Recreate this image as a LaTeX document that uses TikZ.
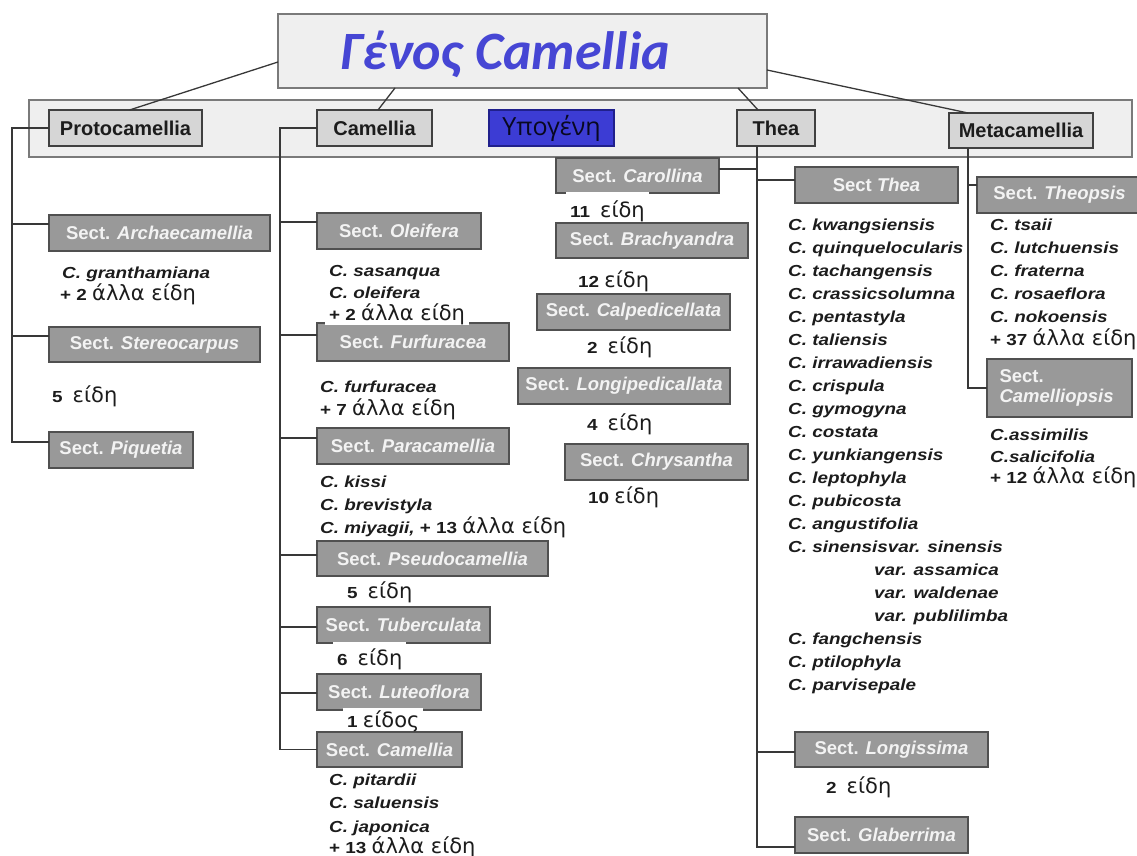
\documentclass[tikz,border=0pt]{standalone}
\usepackage{fontspec}
\setmainfont{Liberation Sans}
\newfontfamily\spfont[FakeStretch=1.18]{Liberation Sans}
\newfontfamily\grfont{DejaVu Sans}
\newfontfamily\ttlfont{Carlito}
\newfontfamily\ypfont{Open Sans}

\definecolor{frameline}{HTML}{7A7A7A}
\definecolor{framefill}{HTML}{EFEFEF}
\definecolor{subfill}{HTML}{D6D6D6}
\definecolor{subline}{HTML}{404040}
\definecolor{sectfill}{HTML}{999999}
\definecolor{sectline}{HTML}{505050}
\definecolor{secttext}{HTML}{F3F3F3}
\definecolor{ink}{HTML}{1C1C1C}
\definecolor{linkcol}{HTML}{383838}
\definecolor{titleblue}{HTML}{4646D4}
\definecolor{ypblue}{HTML}{3C3CD4}
\definecolor{ypline}{HTML}{20208C}
\definecolor{yptext}{HTML}{080820}

% Greek words in the species counts
\newcommand\gk[1]{{\grfont\fontsize{21}{25}\selectfont\mdseries\upshape #1}}
\newcommand\gap{\hspace{10pt}}
% entry point of a connector on a box side
\newcommand\setentry[3]{\path ([yshift=#3]#1.#2) coordinate (#1-in);}

\tikzset{
  sz/.style 2 args={minimum width=#1pt, minimum height=#2pt},
  box/.style={anchor=north west, inner sep=0pt, outer sep=0pt},
  frame/.style={box, draw=frameline, fill=framefill, line width=1.5pt},
  subg/.style={box, draw=subline, fill=subfill, line width=1.5pt, text=ink,
    font=\fontsize{20}{24}\selectfont\bfseries},
  ypbox/.style={box, draw=ypline, fill=ypblue, line width=1.5pt, text=yptext,
    font=\ypfont\fontsize{25}{28}\selectfont},
  sect/.style={box, draw=sectline, fill=sectfill, line width=1.8pt, text=secttext,
    font=\fontsize{18.5}{20}\selectfont\bfseries},
  sp/.style={anchor=base west, inner sep=0pt, text=ink,
    font=\spfont\fontsize{16}{19}\selectfont\bfseries\itshape},
  cnt/.style={anchor=base west, inner sep=0pt, text=ink,
    font=\spfont\fontsize{16}{19}\selectfont\bfseries},
  wbg/.style={fill=white, inner xsep=4pt},
  link/.style={draw=linkcol, line width=1.3pt},
}

\begin{document}
\begin{tikzpicture}[x=1pt, y=-1pt]
\useasboundingbox (0,0) rectangle (1137,856);
\clip (0,0) rectangle (1137,856);

% genus title and subgenus band
\node[frame, sz={1103}{57}] (band) at (29,100) {};
\node[frame, sz={489}{74}] (title) at (278,14) {};
\node[anchor=base, inner sep=0pt, text=titleblue,
      font=\ttlfont\fontsize{54}{60}\selectfont\bfseries\itshape] (titletext) at (505,70) {Γένος Camellia};

% subgenera
\node[subg, sz={153}{36}] (proto) at (49,110) {Protocamellia};
\node[subg, sz={115}{36}] (camsub) at (317,110) {Camellia};
\node[ypbox, sz={125}{36}] (ypo) at (489,110) {Υπογένη};
\node[subg, sz={78}{36}] (thea) at (737,110) {Thea};
\node[subg, sz={144}{35}] (meta) at (949,113) {Metacamellia};

\draw[link] ([yshift=-11pt]title.west) -- ([xshift=4pt]proto.north);
\draw[link] ([xshift=-127.5pt]title.south) -- ([xshift=3.5pt]camsub.north);
\draw[link] ([xshift=215.5pt]title.south) -- ([xshift=-18pt]thea.north);
\draw[link] ([yshift=-19pt]title.east) -- ([xshift=-53pt]meta.north);

% sections of Protocamellia
\node[sect, sz={221}{36}] (archae) at (49,215) {Sect. \textit{Archaecamellia}};
\node[sect, sz={211}{35}] (stereo) at (49,327) {Sect. \textit{Stereocarpus}};
\node[sect, sz={144}{36}] (piq) at (49,432) {Sect. \textit{Piquetia}};

% sections of Camellia
\node[sect, sz={164}{36}] (olei) at (317,213) {Sect. \textit{Oleifera}};
\node[sect, sz={192}{38}] (furf) at (317,323) {Sect. \textit{Furfuracea}};
\node[sect, sz={192}{36}] (para) at (317,428) {Sect. \textit{Paracamellia}};
\node[sect, sz={231}{35}] (pseudo) at (317,541) {Sect. \textit{Pseudocamellia}};
\node[sect, sz={173}{36}] (tuber) at (317,607) {Sect. \textit{Tuberculata}};
\node[sect, sz={164}{36}] (luteo) at (317,674) {Sect. \textit{Luteoflora}};
\node[sect, sz={145}{35}] (scam) at (317,732) {Sect. \textit{Camellia}};

% sections of Thea
\node[sect, sz={163}{35}] (caro) at (556,158) {Sect. \textit{Carollina}};
\node[sect, sz={192}{35}] (brachy) at (556,223) {Sect. \textit{Brachyandra}};
\node[sect, sz={193}{36}] (calped) at (537,294) {Sect. \textit{Calpedicellata}};
\node[sect, sz={212}{36}] (longiped) at (518,368) {Sect. \textit{Longipedicallata}};
\node[sect, sz={183}{36}] (chrys) at (565,444) {Sect. \textit{Chrysantha}};
\node[sect, sz={163}{36}] (sthea) at (795,167) {Sect \textit{Thea}};
\node[sect, sz={193}{35}] (longis) at (795,732) {Sect. \textit{Longissima}};
\node[sect, sz={173}{36}] (glab) at (795,817) {Sect. \textit{Glaberrima}};

% sections of Metacamellia
\node[sect, sz={165}{36}] (theop) at (977,177) {Sect. \textit{Theopsis}};
\node[sect, sz={145}{58}, align=left, text width=120pt] (camop) at (987,359) {Sect.\\\textit{Camelliopsis}};

% trunk lines
\coordinate (ptrunk) at (12,0);
\coordinate (ctrunk) at (280,0);
\coordinate (ttrunk) at (757,0);
\coordinate (mtrunk) at (968,0);

\setentry{archae}{west}{9pt}
\setentry{stereo}{west}{8.5pt}
\setentry{piq}{west}{8pt}
\draw[link] (proto.west) -| (piq-in -| ptrunk) -- (piq-in);
\draw[link] (archae-in) -- (archae-in -| ptrunk);
\draw[link] (stereo-in) -- (stereo-in -| ptrunk);

\setentry{olei}{west}{9pt}
\setentry{furf}{west}{7pt}
\setentry{para}{west}{8pt}
\setentry{pseudo}{west}{3.5pt}
\setentry{tuber}{west}{-2pt}
\setentry{luteo}{west}{-1pt}
\setentry{scam}{west}{0pt}
\draw[link] (camsub.west) -| (scam-in -| ctrunk) -- (scam-in);
\foreach \b in {olei,furf,para,pseudo,tuber,luteo}
  \draw[link] (\b-in) -- (\b-in -| ctrunk);

\setentry{caro}{east}{6.5pt}
\setentry{sthea}{west}{5pt}
\setentry{longis}{west}{-2.5pt}
\setentry{glab}{west}{-12pt}
\draw[link] (ttrunk |- thea.south) -- (glab-in -| ttrunk) -- (glab-in);
\foreach \b in {caro,sthea,longis}
  \draw[link] (\b-in) -- (\b-in -| ttrunk);

\setentry{theop}{west}{10pt}
\setentry{camop}{west}{0pt}
\draw[link] (mtrunk |- meta.south) -- (camop-in -| mtrunk) -- (camop-in);
\draw[link] (theop-in) -- (theop-in -| mtrunk);

% species of Protocamellia
\node[sp] (archae-t1) at (62,278) {C. granthamiana};
\node[cnt] (archae-t2) at (60,300) {+ 2 \gk{άλλα είδη}};
\node[cnt] (stereo-t1) at (52,402) {5\gap\gk{είδη}};

% species of Camellia
\node[sp] (olei-t1) at (329,276) {C. sasanqua};
\node[sp] (olei-t2) at (329,298) {C. oleifera};
\node[cnt, wbg, text height=16pt, text depth=5pt] (olei-t3) at (325,320) {+ 2 \gk{άλλα είδη}};
\node[sp] (furf-t1) at (320,392) {C. furfuracea};
\node[cnt] (furf-t2) at (320,415) {+ 7 \gk{άλλα είδη}};
\node[sp] (para-t1) at (320,487) {C. kissi};
\node[sp] (para-t2) at (320,510) {C. brevistyla};
\node[sp] (para-t3) at (320,533) {C. miyagii, {\upshape + 13} \gk{άλλα είδη}};
\node[cnt] (pseudo-t1) at (347,598) {5\gap\gk{είδη}};
\node[cnt, wbg, text height=23pt, text depth=4pt] (tuber-t1) at (333,665) {6\gap\gk{είδη}};
\node[cnt, wbg, text height=19pt, text depth=4pt] (luteo-t1) at (343,727) {1 \gk{είδος}};
\node[sp] (scam-t1) at (329,785) {C. pitardii};
\node[sp] (scam-t2) at (329,808) {C. saluensis};
\node[sp] (scam-t3) at (329,832) {C. japonica};
\node[cnt] (scam-t4) at (329,853) {+ 13 \gk{άλλα είδη}};

% species counts of the middle sections
\node[cnt, wbg, text height=25pt, text depth=4pt] (caro-t1) at (566,217) {11\gap\gk{είδη}};
\node[cnt] (brachy-t1) at (578,287) {12 \gk{είδη}};
\node[cnt] (calped-t1) at (587,353) {2\gap\gk{είδη}};
\node[cnt] (longiped-t1) at (587,430) {4\gap\gk{είδη}};
\node[cnt] (chrys-t1) at (588,503) {10 \gk{είδη}};

% species of Sect Thea
\foreach \s [count=\i from 0] in {kwangsiensis, quinquelocularis, tachangensis,
    crassicsolumna, pentastyla, taliensis, irrawadiensis, crispula, gymogyna,
    costata, yunkiangensis, leptophyla, pubicosta, angustifolia, sinensisvar. sinensis}
  \node[sp] (sthea-t\i) at (788,{230+23*\i}) {C. \s};
\foreach \s [count=\i from 15] in {assamica, waldenae, publilimba}
  \node[sp] (sthea-t\i) at (874,{230+23*\i}) {var. \s};
\foreach \s [count=\i from 18] in {fangchensis, ptilophyla, parvisepale}
  \node[sp] (sthea-t\i) at (788,{230+23*\i}) {C. \s};
\node[cnt] (longis-t1) at (826,793) {2\gap\gk{είδη}};

% species of Metacamellia
\foreach \s [count=\i from 0] in {tsaii, lutchuensis, fraterna, rosaeflora, nokoensis}
  \node[sp] (theop-t\i) at (990,{230+23*\i}) {C. \s};
\node[cnt] (theop-t5) at (990,345) {+ 37 \gk{άλλα είδη}};
\node[sp] (camop-t1) at (990,440) {C.assimilis};
\node[sp] (camop-t2) at (990,462) {C.salicifolia};
\node[cnt] (camop-t3) at (990,483) {+ 12 \gk{άλλα είδη}};
\end{tikzpicture}
\end{document}
